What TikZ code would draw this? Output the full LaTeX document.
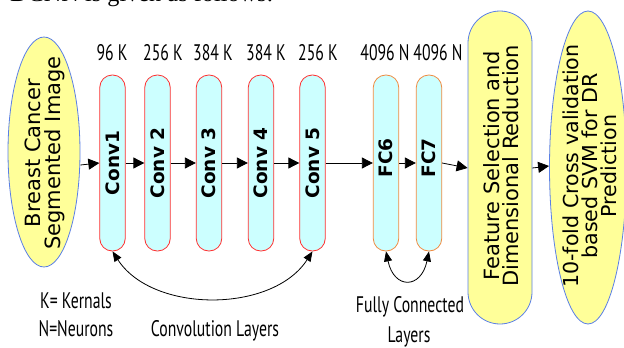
\documentclass[tikz,border=0pt]{standalone}
\usepackage{fontspec}
\setmainfont{DejaVu Sans}
\newfontfamily\labfont{PT Sans}[FakeStretch=0.7]
\newfontfamily\capfont{Liberation Serif}
\usetikzlibrary{arrows.meta,shapes.geometric}
\definecolor{cyanfill}{HTML}{CCFFFF}
\definecolor{convred}{HTML}{FF3030}
\definecolor{fcorange}{HTML}{F08A40}
\definecolor{yelfill}{HTML}{FFFF99}
\definecolor{blueline}{HTML}{5A7FE6}
\tikzset{
  layerbox/.style={draw=convred, fill=cyanfill, line width=0.8pt, rectangle, rounded corners=12.5pt,
    minimum width=25.5pt, minimum height=176pt, inner sep=0pt},
  fcbox/.style={layerbox, draw=fcorange},
  boxtext/.style={font=\fontsize{18.5}{20}\selectfont\bfseries, rotate=90},
  toplab/.style={font=\labfont\fontsize{22.5}{24}\selectfont, anchor=base, inner sep=0pt},
  lab/.style={font=\labfont\fontsize{22.5}{24}\selectfont, anchor=base, inner sep=0pt},
  flow/.style={-{Triangle[length=11pt,width=11pt]}, line width=0.8pt},
  loop/.style={{Triangle[length=10pt,width=8pt]}-{Triangle[length=10pt,width=8pt]}, line width=0.8pt},
  bigtext/.style={font=\fontsize{21}{19.5}\selectfont, rotate=90, align=center}
}
\begin{document}
\begin{tikzpicture}[x=1pt,y=-1pt]
\useasboundingbox (0,0) rectangle (624,348);
% cropped caption
\begin{scope}
\clip (0,0) rectangle (624,348);
\node[font=\capfont\fontsize{24.3}{28}\selectfont, anchor=base west, inner sep=0pt] (cap) at (10,1.5) {DCNN is given as follows:};
\end{scope}
% input ellipse
\node[ellipse, draw=blueline, fill=yelfill, line width=0.8pt, minimum width=72pt, minimum height=230pt, inner sep=0pt] (img) at (44,152) {};
\node[bigtext, font=\fontsize{21}{20}\selectfont] (imgt) at (45,153) {Breast Cancer\\Segmented Image};
% conv layers
\node[layerbox] (c1) at (112.5,163) {};
\node[layerbox] (c2) at (157.5,163) {};
\node[layerbox] (c3) at (209,163) {};
\node[layerbox] (c4) at (261,163) {};
\node[layerbox] (c5) at (312.5,163) {};
\node[fcbox] (f6) at (386,163) {};
\node[fcbox] (f7) at (429,163) {};
\node[boxtext] (c1t) at (c1) {Conv1};
\node[boxtext] (c2t) at (c2) {Conv 2};
\node[boxtext] (c3t) at (c3) {Conv 3};
\node[boxtext] (c4t) at (c4) {Conv 4};
\node[boxtext] (c5t) at (c5) {Conv 5};
\node[boxtext] (f6t) at (386,158) {FC6};
\node[boxtext] (f7t) at (429,158) {FC7};
% feature selection
\node[rectangle, rounded corners=32pt, draw=blueline, fill=yelfill, line width=0.8pt, minimum width=64pt, minimum height=313pt, inner sep=0pt] (fs) at (500,167.5) {};
\node[bigtext, font=\fontsize{21}{18.5}\selectfont] (fst) at (501,166) {Feature Selection and\\Dimensional Reduction};
% svm ellipse
\node[ellipse, draw=blueline, fill=yelfill, line width=0.8pt, minimum width=77pt, minimum height=313pt, inner sep=0pt] (svm) at (588,167.5) {};
\node[bigtext, font=\fontsize{20.6}{19}\selectfont] (svmt) at (590,166) {10-fold Cross validation\\based SVM for DR\\Prediction};
% top labels
\node[toplab] (l1) at (112,60) {96 K};
\node[toplab] (l2) at (163,60) {256 K};
\node[toplab] (l3) at (213,60) {384 K};
\node[toplab] (l4) at (266,60) {384 K};
\node[toplab] (l5) at (318,60) {256 K};
\node[toplab] (l6) at (385,60) {4096 N};
\node[toplab] (l7) at (438,60) {4096 N};
% flow arrows
\draw[flow] (img.east |- 0,165) -- (c1.west |- 0,163);
\draw[flow] (c1.east) -- (c2.west);
\draw[flow] (c2.east) -- (c3.west);
\draw[flow] (c3.east) -- (c4.west);
\draw[flow] (c4.east) -- (c5.west);
\draw[flow] (c5.east) -- (f6.west);
\draw[flow] (f6.east) -- (f7.west);
\draw[flow] (f7.east) -- (fs.west |- 0,168);
\draw[flow] (fs.east |- 0,168) -- (svm.west |- 0,166);
% loops
\draw[loop] (c1.south) .. controls +(40,62) and +(-40,62) .. (c5.south);
\draw[loop] (f6.south) .. controls +(8,38) and +(-8,38) .. (f7.south);
% bottom labels
\node[lab] (kk) at (76,308) {K= Kernals};
\node[lab] (nn) at (76,336) {N=Neurons};
\node[lab] (cl) at (215,336) {Convolution Layers};
\node[lab] (fc) at (410,312) {Fully Connected};
\node[lab] (fl) at (409,342) {Layers};
\end{tikzpicture}
\end{document}
